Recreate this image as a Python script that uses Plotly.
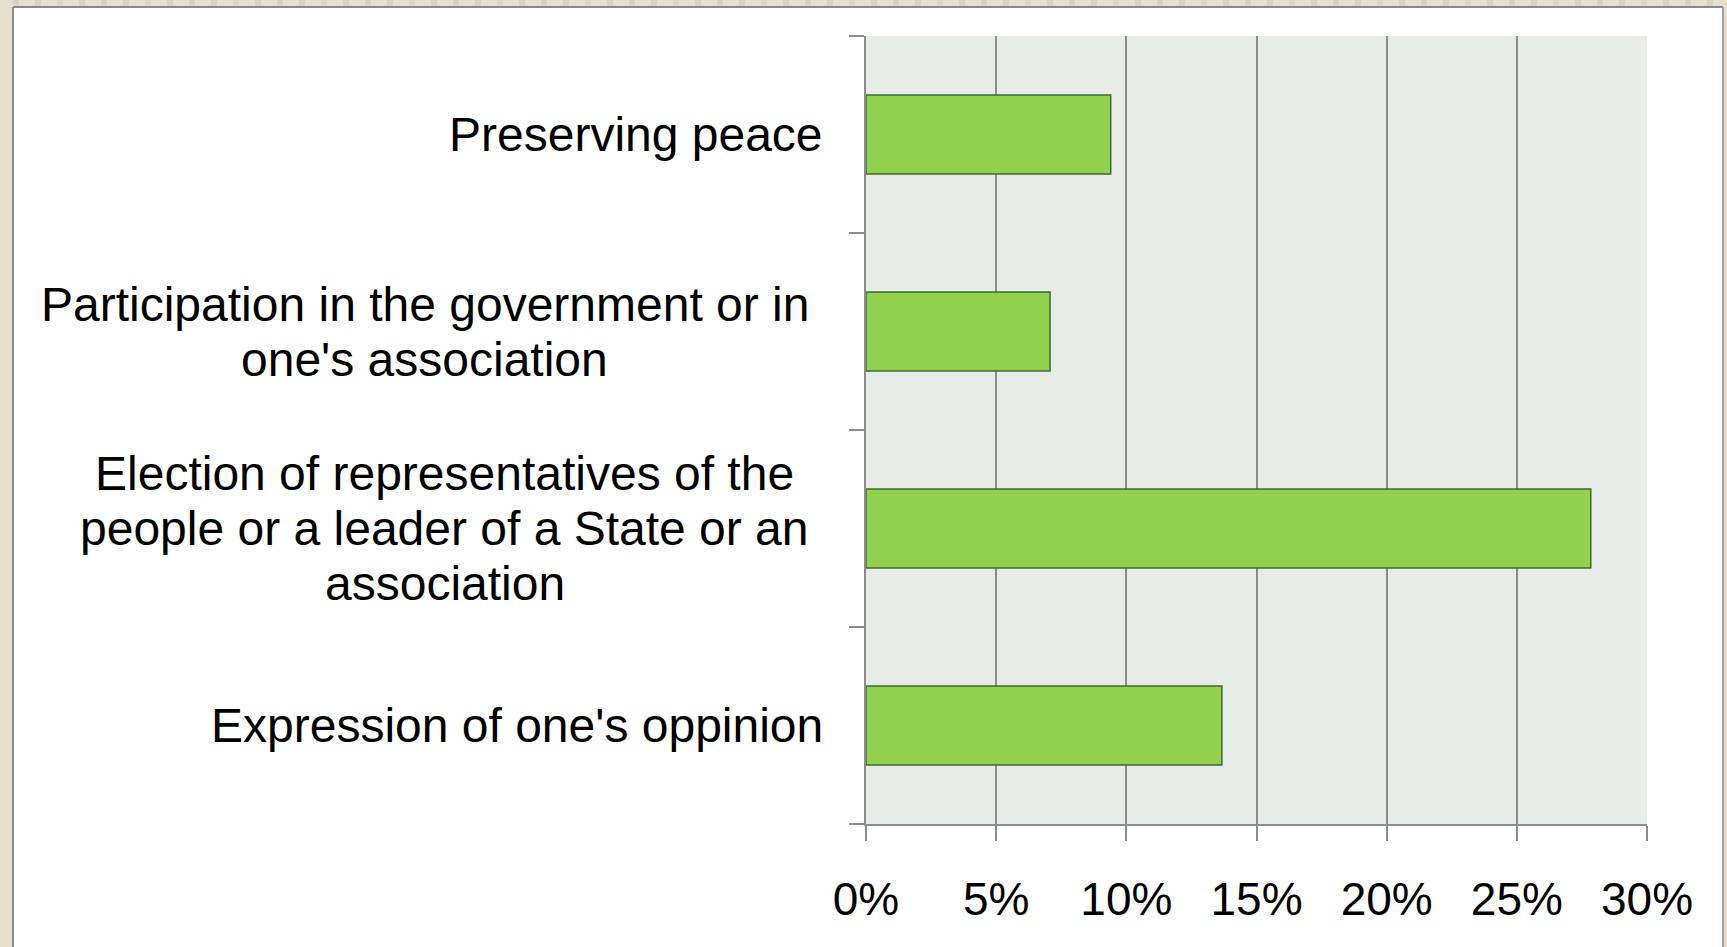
import plotly.graph_objects as go

# ---- data (top to bottom as shown) ----
categories = [
    "Preserving peace",
    "Participation in the government or in<br>one's association",
    "Election of representatives of the<br>people or a leader of a State or an<br>association",
    "Expression of one's oppinion",
]
values = [0.094, 0.0707, 0.2784, 0.1367]
tick_vals = [0, 0.05, 0.10, 0.15, 0.20, 0.25, 0.30]
tick_text = ["0%", "5%", "10%", "15%", "20%", "25%", "30%"]

# ---- layout geometry (pixels) ----
FW, FH = 1727, 947
L, R, T, B = 866, 80, 36, 123
PW, PH = FW - L - R, FH - T - B
FONT = "Arial, Liberation Sans, sans-serif"
GRAY = "#8c8c8c"
LABEL_SIZE = 48
LINE_STEP = 55  # px between label lines

# approximate Arial advance widths (per 1000 em)
AW = {" ": 278, "'": 191, "a": 556, "b": 556, "c": 500, "d": 556, "e": 556,
      "f": 278, "g": 556, "h": 556, "i": 222, "l": 222, "m": 833, "n": 556,
      "o": 556, "p": 556, "r": 333, "s": 500, "t": 278, "u": 556, "v": 500,
      "x": 500, "y": 500, "E": 667, "P": 667, "S": 667}


def text_w(s, size):
    return sum(AW.get(ch, 556) for ch in s) * size / 1000.0


def px(xp):
    return (xp - L) / PW


def py(yp):
    return 1 - (yp - T) / PH


fig = go.Figure()
fig.add_trace(go.Bar(
    y=categories,
    x=values,
    orientation="h",
    marker=dict(color="#92d050", line=dict(color="#3d6b2d", width=1.5)),
    width=0.4,
    hoverinfo="x+y",
))

shapes = []
BEIGE = "#e6dfcd"
STRIPE = "#ddd5c1"
shapes.append(dict(type="rect", xref="paper", yref="paper", layer="above",
                   x0=px(0), x1=px(FW), y0=py(0), y1=py(6.5),
                   fillcolor=BEIGE, line=dict(width=0)))
for s in range(13, FW, 22):
    shapes.append(dict(type="rect", xref="paper", yref="paper", layer="above",
                       x0=px(s), x1=px(s + 6), y0=py(0), y1=py(6.5),
                       fillcolor=STRIPE, line=dict(width=0)))
shapes.append(dict(type="rect", xref="paper", yref="paper", layer="above",
                   x0=px(0), x1=px(12), y0=py(0), y1=py(FH),
                   fillcolor=BEIGE, line=dict(width=0)))
shapes.append(dict(type="rect", xref="paper", yref="paper", layer="above",
                   x0=px(1724), x1=px(FW), y0=py(0), y1=py(FH),
                   fillcolor=BEIGE, line=dict(width=0)))
shapes.append(dict(type="line", xref="paper", yref="paper", layer="above",
                   x0=px(13), x1=px(1723), y0=py(7), y1=py(7),
                   line=dict(color="#8a8a8a", width=2)))
shapes.append(dict(type="line", xref="paper", yref="paper", layer="above",
                   x0=px(13), x1=px(13), y0=py(7), y1=py(FH),
                   line=dict(color="#8a8a8a", width=2)))
shapes.append(dict(type="line", xref="paper", yref="paper", layer="above",
                   x0=px(1723), x1=px(1723), y0=py(7), y1=py(FH),
                   line=dict(color="#a0a0a0", width=2)))

annotations = []
for c in categories:
    lines = c.split("<br>")
    n = len(lines)
    if n == 1:
        annotations.append(dict(
            x=0, xref="paper", y=c, yref="y", text=c, showarrow=False,
            xanchor="right", yanchor="middle", xshift=-41,
            font=dict(family=FONT, size=LABEL_SIZE, color="black"),
        ))
    else:
        right_edge = L - 57
        maxw = max(text_w(ln, LABEL_SIZE) for ln in lines)
        cx = right_edge - maxw / 2.0
        for i, ln in enumerate(lines):
            annotations.append(dict(
                x=px(cx), xref="paper", y=c, yref="y", text=ln,
                showarrow=False, xanchor="center", yanchor="middle",
                yshift=-(i - (n - 1) / 2.0) * LINE_STEP,
                font=dict(family=FONT, size=LABEL_SIZE, color="black"),
            ))

fig.update_layout(
    width=FW, height=FH,
    margin=dict(l=L, r=R, t=T, b=B, pad=0),
    paper_bgcolor="white",
    plot_bgcolor="#e8ece8",
    showlegend=False,
    bargap=0.6,
    shapes=shapes,
    annotations=annotations,
    font=dict(family=FONT, color="black"),
)
fig.update_xaxes(
    range=[0, 0.30],
    tickvals=tick_vals, ticktext=tick_text,
    tickfont=dict(family=FONT, size=46, color="black"),
    ticklabelstandoff=19,
    showgrid=True, gridcolor=GRAY, gridwidth=2,
    zeroline=False,
    showline=True, linecolor=GRAY, linewidth=2,
    ticks="outside", ticklen=15, tickcolor=GRAY, tickwidth=2,
    fixedrange=True,
)
fig.update_yaxes(
    type="category",
    categoryorder="array", categoryarray=categories[::-1],
    range=[-0.5, len(categories) - 0.5],
    showticklabels=False,
    tickson="boundaries",
    ticks="outside", ticklen=15, tickcolor=GRAY, tickwidth=2,
    showgrid=False, zeroline=False,
    showline=True, linecolor=GRAY, linewidth=2,
    fixedrange=True,
)

fig.write_html("out.html", config={"displayModeBar": False})
